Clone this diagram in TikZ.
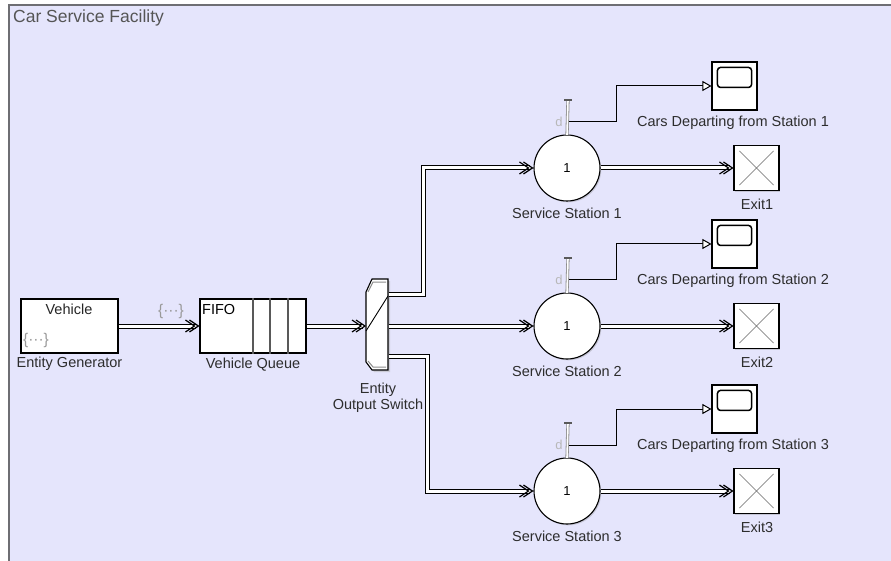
\documentclass[tikz,border=0pt]{standalone}
\usepackage{fontspec}
\setmainfont{Liberation Sans}
\usetikzlibrary{arrows.meta,shadows,calc}
\definecolor{bg}{RGB}{229,229,252}
\definecolor{lbl}{RGB}{45,45,45}
\definecolor{ttl}{RGB}{85,85,85}
\definecolor{frame}{RGB}{110,110,115}
\begin{document}
\begin{tikzpicture}[x=1pt,y=-1pt,
  font=\fontsize{14.5}{17}\selectfont,
  blk/.style={draw=black, line width=1.1pt, fill=white, inner sep=0pt,
    drop shadow={shadow xshift=1.3pt, shadow yshift=-1.3pt, opacity=0.3}},
  lab/.style={text=lbl, inner sep=0pt},
  faint/.style={text=black!40, inner sep=0pt, font=\fontsize{15.5}{18}\selectfont},
  ent/.style={draw=black, line width=1pt, double=white, double distance=3pt},
  sig/.style={draw=black, line width=1pt, -{Triangle[fill=white, length=9pt, width=10pt]}},
  stick/.style={draw=black!45, line width=0.8pt, double=white, double distance=1.6pt},
  chev/.pic={
    \draw[black, line width=1.2pt] (-10,-6) -- (-1,0) -- (-10,6);
    \draw[black, line width=1.2pt] (-14,-6) -- (-5,0) -- (-14,6);
  }
]
\useasboundingbox (0,0) rectangle (891,561);
\fill[white] (0,0) rectangle (891,561);
\fill[bg] (9,5) rectangle (891,561);
\draw[frame, line width=1.6pt] (9,561) -- (9,5) -- (891,5);
\node[anchor=west, text=ttl, inner sep=0pt, font=\fontsize{17.5}{20}\selectfont] (title) at (13,18) {Car Service Facility};

% Entity generator
\node[blk, minimum width=97pt, minimum height=54pt] (gen) at (69.5,326) {};
\node[inner sep=0pt, text=black!85] (genv) at (69,309) {Vehicle};
\node[faint] (genb) at (36,340) {\{···\}};
\node[lab] (genl) at (69.5,364) {Entity Generator};

% Queue
\node[blk, minimum width=106pt, minimum height=54pt] (q) at (253,326) {};
\node[inner sep=0pt, anchor=west, text=black] (fifo) at (202,310) {FIFO};
\foreach \dx in {0,17,35}{
  \draw[black!65, line width=1.4pt] ([xshift=\dx pt]q.north) -- ([xshift=\dx pt]q.south);
}
\node[lab] (ql) at (253,365) {Vehicle Queue};

% Switch
\node[minimum width=22pt, minimum height=92pt, inner sep=0pt] (sw) at (377,325) {};
\fill[black!30, opacity=0.5] (368,294) -- (374,281) -- (390,281) -- (390,372) -- (374,372) -- (368,364) -- cycle;
\filldraw[fill=white, draw=black, line width=1.1pt] (366,292) -- (372,279) -- (388,279) -- (388,370) -- (372,370) -- (366,362) -- cycle;
\draw[black!45, line width=1pt] (368,292) -- (373,282) -- (386,282);
\draw[black!45, line width=1pt] (368,361) -- (373,367) -- (386,367);
\draw[black, line width=0.9pt] (366,331) -- (388,296);
\node[lab, align=center, font=\fontsize{14.5}{16}\selectfont] (swl) at (378,398) {Entity\\Output Switch};

% Generator -> Queue -> Switch
\node[faint] (conlab) at (171,311) {\{···\}};
\draw[ent] (gen.east) -- ([xshift=-3pt]q.west);
\pic at (q.west) {chev};
\coordinate (swin) at (366,326);
\draw[ent] (q.east) -- ([xshift=-3pt]swin);
\pic at (swin) {chev};

% Stations
\foreach \i/\y/\sy in {1/168/86, 2/326/244, 3/491/409}{
  \node[blk, circle, minimum size=66pt] (st\i) at (567,\y) {};
  \node[inner sep=0pt, font=\fontsize{13}{15}\selectfont] (stn\i) at (567,\y) {1};
  \node[lab] (stl\i) at (567,\y+45) {Service Station \i};
  % port stick
  \coordinate (ptop\i) at (568,\y-68);
  \coordinate (d\i) at (569,\y-46);
  \draw[stick] (ptop\i) -- ([yshift=-0.5pt]st\i.north);
  \draw[black!65, line width=1.6pt] ([xshift=-4pt]ptop\i) -- ([xshift=4pt]ptop\i);
  \node[inner sep=0pt, text=black!28, font=\fontsize{13}{15}\selectfont] (dl\i) at (559,\y-46) {d};
  % scope
  \node[blk, minimum width=45pt, minimum height=48pt] (sc\i) at (734.5,\sy) {};
  \draw[black, line width=1.5pt, rounded corners=3pt] ($(sc\i.north west)+(6,6)$) rectangle ($(sc\i.north east)+(-6,26)$);
  \node[lab] (scl\i) at (733,\sy+37) {Cars Departing from Station \i};
  \draw[sig] (d\i) -- (616,\y-46) |- (sc\i.west);
  % exit
  \node[blk, minimum width=45pt, minimum height=45pt] (ex\i) at (756.5,\y) {};
  \draw[black!60, line width=0.6pt] ($(ex\i.north west)+(6,6)$) -- ($(ex\i.south east)+(-6,-6)$);
  \draw[black!60, line width=0.6pt] ($(ex\i.north east)+(-6,6)$) -- ($(ex\i.south west)+(6,-6)$);
  \node[lab] (exl\i) at (757,\y+36) {Exit\i};
  \draw[ent] (st\i.east) -- ([xshift=-3pt]ex\i.west);
  \pic at (ex\i.west) {chev};
}

% Switch outputs
\coordinate (o1) at (388.5,294);
\coordinate (o2) at (388.5,326);
\coordinate (o3) at (388.5,356);
\draw[ent] (o1) -- (423,294) |- ([xshift=-3pt]st1.west);
\draw[ent] (o2) -- ([xshift=-3pt]st2.west);
\draw[ent] (o3) -- (427,356) |- ([xshift=-3pt]st3.west);
\pic at (st1.west) {chev};
\pic at (st2.west) {chev};
\pic at (st3.west) {chev};
\end{tikzpicture}
\end{document}
